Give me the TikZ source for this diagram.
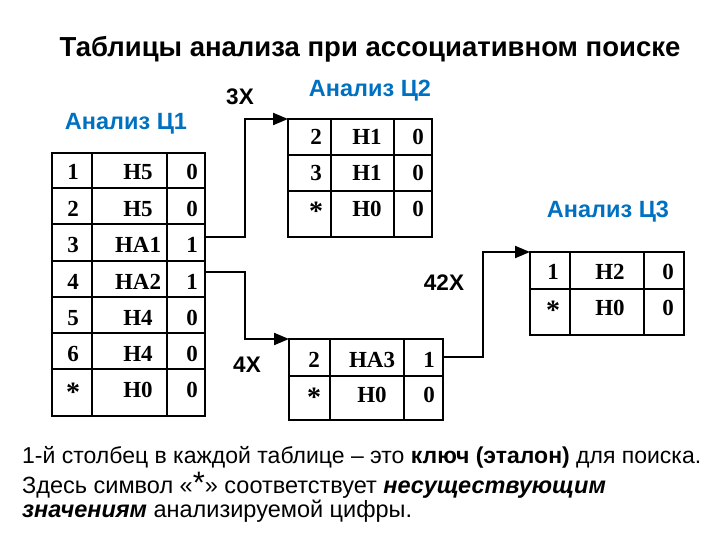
\documentclass[tikz,border=0pt]{standalone}
\usepackage{fontspec}
\setmainfont{Liberation Sans}
\newfontfamily\tabfont{Liberation Serif}
\usetikzlibrary{arrows.meta}
\definecolor{lblblue}{RGB}{0,112,192}
\newcommand\tstar{\raisebox{-4pt}{\fontsize{28}{28}\selectfont *}}
\tikzset{
 tbl/.style={draw, line width=2.5pt, inner sep=0pt, outer sep=0pt, anchor=north west},
 gridline/.style={line width=2.5pt},
 cell/.style={font=\tabfont\bfseries\fontsize{23}{23}\selectfont, anchor=base, inner sep=0pt},
 conn/.style={line width=2pt, -{Triangle[length=15pt,width=12pt]}},
 lbl/.style={font=\bfseries\fontsize{23.5}{24}\selectfont, text=lblblue, anchor=base, inner sep=0pt},
 mult/.style={font=\bfseries\fontsize{22.5}{23}\selectfont, anchor=base, inner sep=0pt},
 note/.style={font=\fontsize{23}{23}\selectfont, anchor=base west, inner sep=0pt},
}
\begin{document}
\begin{tikzpicture}[x=1pt,y=-1pt]
\useasboundingbox (0,0) rectangle (720,540);

% title
\node[font=\bfseries\fontsize{27.5}{28}\selectfont, anchor=base, inner sep=0pt] (title) at (370,57) {Таблицы анализа при ассоциативном поиске};

% labels
\node[lbl] (l1) at (126,130) {Анализ Ц1};
\node[lbl] (l2) at (370,97) {Анализ Ц2};
\node[lbl] (l3) at (608,218) {Анализ Ц3};
\node[mult] (m3) at (240,105) {3X};
\node[mult] (m4) at (247,372) {4X};
\node[mult] (m42) at (444,290) {42X};

% table 1
\node[tbl, minimum width=153pt, minimum height=263pt] (t1) at (52,153) {};
\foreach \x in {92,167} \draw[gridline] (\x,153) -- (\x,416);
\foreach \y in {188,224,261,297,333,369} \draw[gridline] (52,\y) -- (205,\y);
\foreach \a/\b/\c/\y [count=\i] in {1/H5/0/180, 2/H5/0/216, 3/HA1/1/252, 4/HA2/1/289, 5/H4/0/325, 6/H4/0/361, {\tstar}/H0/0/397}{
  \node[cell] (t1a\i) at (73,\y) {\a};
  \node[cell] (t1b\i) at (138,\y) {\b};
  \node[cell] (t1c\i) at (192,\y) {\c};
}

% table 2
\node[tbl, minimum width=144pt, minimum height=118pt] (t2) at (288,119) {};
\foreach \x in {331,394} \draw[gridline] (\x,119) -- (\x,237);
\foreach \y in {155,191} \draw[gridline] (288,\y) -- (432,\y);
\foreach \a/\b/\c/\y [count=\i] in {2/H1/0/145, 3/H1/0/181, {\tstar}/H0/0/217}{
  \node[cell] (t2a\i) at (316,\y) {\a};
  \node[cell] (t2b\i) at (367,\y) {\b};
  \node[cell] (t2c\i) at (418,\y) {\c};
}

% table 3
\node[tbl, minimum width=154pt, minimum height=81pt] (t3) at (289,339) {};
\foreach \x in {330,404} \draw[gridline] (\x,339) -- (\x,420);
\draw[gridline] (289,376) -- (443,376);
\foreach \a/\b/\c/\y [count=\i] in {2/HA3/1/367, {\tstar}/H0/0/402}{
  \node[cell] (t3a\i) at (314,\y) {\a};
  \node[cell] (t3b\i) at (372,\y) {\b};
  \node[cell] (t3c\i) at (429,\y) {\c};
}

% table 4
\node[tbl, minimum width=154pt, minimum height=83pt] (t4) at (530,252) {};
\foreach \x in {570,644} \draw[gridline] (\x,252) -- (\x,335);
\draw[gridline] (530,289) -- (684,289);
\foreach \a/\b/\c/\y [count=\i] in {1/H2/0/279, {\tstar}/H0/0/315}{
  \node[cell] (t4a\i) at (553,\y) {\a};
  \node[cell] (t4b\i) at (610,\y) {\b};
  \node[cell] (t4c\i) at (668,\y) {\c};
}

% connectors
\coordinate (t1o3) at (205,237);
\coordinate (t1o4) at (205,272);
\coordinate (t3o1) at (443,357);
\draw[conn] (t1o3) -- ++(40,0) |- (t2.north west);
\draw[conn] (t1o4) -- ++(40,0) |- (t3.north west);
\draw[conn] (t3o1) -- ++(40,0) |- (t4.north west);

% notes
\node[note] (n1) at (22,463) {1-й столбец в каждой таблице – это \textbf{ключ (эталон)} для поиска.};
\node[note, font=\fontsize{23.5}{24}\selectfont] (n2) at (22,493) {Здесь символ «{\fontsize{31}{31}\selectfont *}» соответствует \textbf{\textit{несуществующим}}};
\node[note, font=\fontsize{23.5}{24}\selectfont] (n3) at (22,517) {\textbf{\textit{значениям}} анализируемой цифры.};
\end{tikzpicture}
\end{document}
